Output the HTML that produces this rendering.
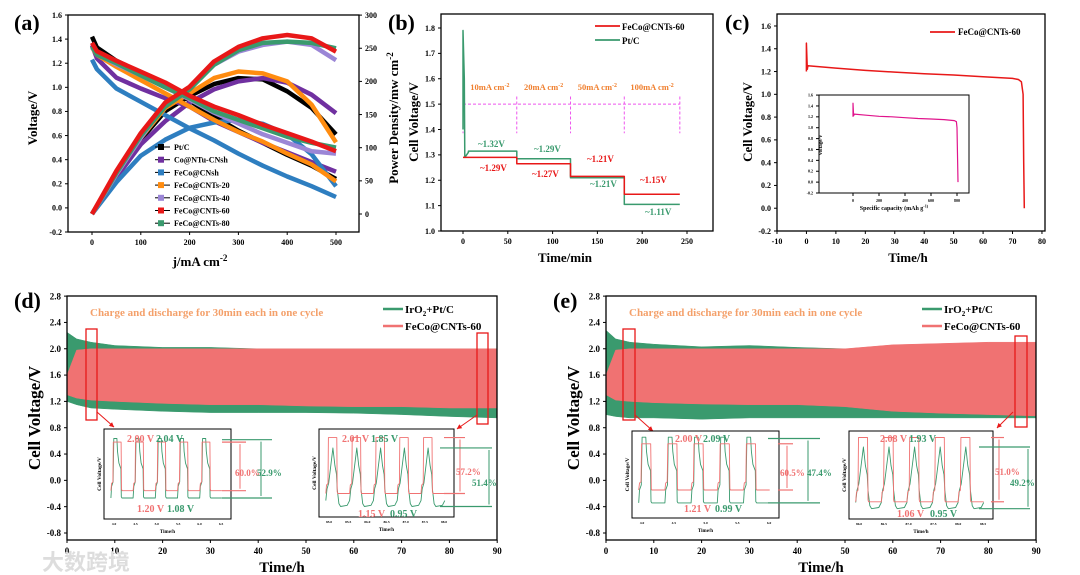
<!DOCTYPE html>
<html><head><meta charset="utf-8"><style>
html,body{margin:0;padding:0;background:#fff;}
svg{display:block;font-family:"Liberation Serif",serif;font-weight:bold;}
</style></head><body>
<svg id="fig" width="1080" height="575" viewBox="0 0 1080 575" xmlns="http://www.w3.org/2000/svg"></svg>
<script>
// ---------- Panel (a) data ----------
const aJV = [0,10,50,100,150,200,250,300,350,400,450,500];
const aJP = [0,50,100,150,200,250,300,350,400,450,500];
const aNames = ["Pt/C","Co@NTu-CNsh","FeCo@CNsh","FeCo@CNTs-20","FeCo@CNTs-40","FeCo@CNTs-60","FeCo@CNTs-80"];
const aColors = ["#000000","#7030a0","#2e7ec0","#ff8c10","#9b86d6","#e81818","#3a9a6e"];
const aV0 = [1.42,1.33,1.22,1.12,1.01,0.89,0.76,0.64,0.54,0.44,0.35,0.24];
const aV1 = [1.35,1.24,1.08,0.99,0.91,0.84,0.72,0.63,0.54,0.46,0.38,0.30];
const aV2 = [1.23,1.15,0.99,0.88,0.77,0.66,0.56,0.45,0.35,0.26,0.18,0.09];
const aV3 = [1.33,1.27,1.17,1.06,0.95,0.84,0.73,0.63,0.55,0.45,0.36,0.22];
const aV4 = [1.33,1.28,1.19,1.10,1.00,0.90,0.79,0.70,0.61,0.54,0.47,0.45];
const aV5 = [1.37,1.30,1.22,1.13,1.04,0.93,0.84,0.77,0.69,0.62,0.55,0.47];
const aV6 = [1.34,1.27,1.20,1.10,1.00,0.91,0.80,0.73,0.66,0.59,0.54,0.50];
const aP0 = [0,60,112,155,178,196,205,203,185,160,120];
const aP1 = [0,55,105,140,168,188,200,205,198,180,152];
const aP2 = [0,48,88,112,130,138,142,136,120,90,42];
const aP3 = [0,60,115,160,182,205,215,212,200,165,108];
const aP4 = [0,60,115,165,190,225,245,255,260,255,232];
const aP5 = [0,65,122,168,192,230,252,265,270,265,245];
const aP6 = [0,62,118,162,188,225,247,258,260,258,250];
// ---------- Panel (b) data ----------
const bTimes = [0,60,120,180,242];
const bRed = [1.29,1.265,1.215,1.145];
const bGreen = [1.315,1.285,1.21,1.105];
const bSpike = 1.79;
const bCurrents = ["10mA cm","20mA cm","50mA cm","100mA cm"];
// ---------- Panel (c) data ----------
const cT = [0,0,0.3,0.5,10,20,30,40,50,60,70,72,73,73.6,73.8,74];
const cV = [1.2,1.45,1.22,1.25,1.23,1.21,1.195,1.18,1.17,1.155,1.14,1.13,1.11,1.0,0.4,0];
const ciCap = [0,0,5,10,100,200,300,400,500,600,700,780,795,800,805,808];
const ciV = [1.2,1.45,1.22,1.25,1.23,1.21,1.2,1.185,1.17,1.16,1.15,1.13,1.11,1.0,0.4,0];
// ---------- Panels (d)/(e) envelopes ----------
const dT = [0,2,5,10,20,30,40,50,60,70,80,90];
const dGreenTop = [2.25,2.15,2.1,2.05,2.02,2.02,2.0,2.0,2.0,2.0,2.0,2.0];
const dGreenBot = [1.2,1.15,1.1,1.08,1.05,1.03,1.03,1.03,1.02,1.0,0.97,0.95];
const dRedTop = [1.6,1.98,2.0,2.0,2.0,2.0,2.0,2.0,2.0,2.0,2.0,2.0];
const dRedBot = [1.3,1.25,1.22,1.2,1.17,1.15,1.15,1.13,1.12,1.12,1.1,1.1];
const eGreenTop = [2.28,2.15,2.1,2.07,2.03,2.05,2.02,2.0,2.0,2.0,2.0,2.0];
const eGreenBot = [1.0,0.97,0.95,0.95,0.93,0.95,0.95,0.95,0.95,0.95,0.95,0.95];
const eRedTop = [1.6,1.98,2.0,2.0,2.0,2.0,2.0,2.0,2.06,2.08,2.1,2.1];
const eRedBot = [1.3,1.22,1.2,1.18,1.16,1.15,1.15,1.12,1.05,1.02,1.0,0.98];
// inset levels [redHigh, redLow, greenHigh, greenLow]
const dIn1 = [2.00,1.20,2.04,1.08];
const dIn2 = [2.01,1.15,1.85,0.95];
const eIn1 = [2.00,1.21,2.09,0.99];
const eIn2 = [2.08,1.06,1.93,0.95];
const dIn1Ticks = ["4.0","4.5","5.0","5.5","6.0","6.5"];
const dIn2Ticks = ["85.0","85.5","86.0","86.5","87.0","87.5","88.0"];
const eIn1Ticks = ["4.0","4.5","5.0","5.5","6.0"];
const eIn2Ticks = ["86.0","86.5","87.0","87.5","88.0","88.5"];

const NS="http://www.w3.org/2000/svg";
const svg=document.getElementById('fig');
function el(tag, attrs, name, parent){
  const e=document.createElementNS(NS,tag);
  for(const k in attrs) e.setAttribute(k,attrs[k]);
  
  
  (parent||svg).appendChild(e);
  return e;
}
function txt(x,y,s,size,name,opt){
  opt=opt||{};
  const t=el('text',{x:x,y:y,'font-size':size,fill:opt.fill||'#000','text-anchor':opt.anchor||'start'},name);
  if(opt.rot) t.setAttribute('transform','rotate(-90 '+x+' '+y+')');
  if(opt.sup){ t.textContent=s; const ts=document.createElementNS(NS,'tspan'); ts.setAttribute('dy',-size*0.4); ts.setAttribute('font-size',size*0.7); ts.textContent=opt.sup; t.appendChild(ts);} else t.textContent=s;
  return t;
}
function poly(pts,stroke,w,name,fill){
  return el('polyline',{points:pts.map(p=>p[0].toFixed(1)+','+p[1].toFixed(1)).join(' '),fill:fill||'none',stroke:stroke,'stroke-width':w,'stroke-linejoin':'round'},name);
}
function line(x1,y1,x2,y2,stroke,w,name,dash){
  const l=el('line',{x1:x1,y1:y1,x2:x2,y2:y2,stroke:stroke,'stroke-width':w},name);
  if(dash) l.setAttribute('stroke-dasharray',dash);
  return l;
}
function box(x0,y0,x1,y1,name,w){
  el('rect',{x:x0,y:y0,width:x1-x0,height:y1-y0,fill:'none',stroke:'#000','stroke-width':w||1.3},name);
}
function yTicks(vals,ys,x,labels,size,name,right){
  vals.forEach((v,i)=>{
    const y=ys(v);
    line(x, y, right? x+3 : x-3, y,'#000',1,name+'-tick');
    txt(right? x+6 : x-6, y+size*0.35, labels[i], size, name+'-label',{anchor: right?'start':'end'});
  });
}
function xTicks(vals,xs,y,labels,size,name){
  vals.forEach((v,i)=>{
    const x=xs(v);
    line(x,y,x,y+3,'#000',1,name+'-tick');
    txt(x,y+5+size,labels[i],size,name+'-label',{anchor:'middle'});
  });
}
function range(a,b,s){const r=[];for(let v=a;v<=b+1e-9;v+=s)r.push(+v.toFixed(4));return r;}

// ===== Panel (a) =====
const xA=v=>92+v*0.488, yAL=v=>232-(v+0.2)*120.56, yAR=v=>214-v*0.663;
txt(14,30,'(a)',22,'panel-a-label');
box(68,15,359,232,'panel-a-plot-area');
const aL=range(-0.2,1.6,0.2);
yTicks(aL,yAL,68,aL.map(v=>v.toFixed(1)),8,'a-y-axis');
const aR=range(0,300,50);
yTicks(aR,yAR,359,aR.map(v=>String(v)),8,'a-y2-axis',true);
const aX=range(0,500,100);
xTicks(aX,xA,232,aX.map(v=>String(v)),8,'a-x-axis');
txt(37,118,'Voltage/V',13,'a-y-axis-title',{anchor:'middle',rot:true});
txt(398,118,'Power Density/mw cm',13,'a-y2-axis-title',{anchor:'middle',rot:true,sup:'-2'});
txt(200,266,'j/mA cm',13,'a-x-axis-title',{anchor:'middle',sup:'-2'});
const aVs=[aV0,aV1,aV2,aV3,aV4,aV5,aV6], aPs=[aP0,aP1,aP2,aP3,aP4,aP5,aP6];
const order=[0,1,2,3,4,6,5];
order.forEach(i=>{
  poly(aJV.map((j,k)=>[xA(j),yAL(aVs[i][k])]),aColors[i],4.5,'a-voltage-'+aNames[i].toLowerCase().replace(/[@\/]/g,'-'));
  poly(aJP.map((j,k)=>[xA(j),yAR(aPs[i][k])]),aColors[i],4.5,'a-power-'+aNames[i].toLowerCase().replace(/[@\/]/g,'-'));
});
aNames.forEach((n,i)=>{
  const y=147+i*12.7;
  line(155,y,170,y,'#000',1,'a-legend-line');
  el('rect',{x:158,y:y-3,width:6,height:6,fill:aColors[i]},'a-legend-marker');
  txt(174,y+3,n,8,'a-legend-entry');
});

// ===== Panel (b) =====
const xB=v=>463+v*0.896, yB=v=>231-(v-1.0)*253.75;
txt(388,30,'(b)',22,'panel-b-label');
box(441,14,713,231,'panel-b-plot-area');
const bY=range(1.0,1.8,0.1);
yTicks(bY,yB,441,bY.map(v=>v.toFixed(1)),8,'b-y-axis');
const bX=range(0,250,50);
xTicks(bX,xB,231,bX.map(v=>String(v)),8,'b-x-axis');
txt(418,122,'Cell Voltage/V',13,'b-y-axis-title',{anchor:'middle',rot:true});
txt(565,262,'Time/min',13,'b-x-axis-title',{anchor:'middle'});
// dashed current markers
line(xB(0),yB(1.5),xB(bTimes[4]),yB(1.5),'#ee55ee',1,'b-current-dash','3,2');
bTimes.forEach(t=>line(xB(t),yB(1.53),xB(t),yB(1.385),'#ee55ee',1,'b-current-divider','3,2'));
bCurrents.forEach((c,i)=>txt((xB(bTimes[i])+xB(bTimes[i+1]))/2,yB(1.555),c,8.5,'b-current-label',{anchor:'middle',fill:'#f08030',sup:'-2'}));
// green series
const gPts=[[xB(0),yB(1.4)],[xB(0),yB(bSpike)],[xB(1.5),yB(1.6)],[xB(2),yB(1.29)],[xB(6),yB(bGreen[0]-0.005)]];
const rPts=[[xB(0),yB(bRed[0])]];
for(let i=0;i<4;i++){
  gPts.push([xB(bTimes[i]+(i?0:6)),yB(bGreen[i])],[xB(bTimes[i+1]),yB(bGreen[i])]);
  rPts.push([xB(bTimes[i]),yB(bRed[i])],[xB(bTimes[i+1]),yB(bRed[i])]);
}
poly(gPts,'#3a9a6e',1.5,'b-series-ptc');
poly(rPts,'#e81818',1.5,'b-series-feco-cnts-60');
[['~1.32V',478,147,'#3a9a6e'],['~1.29V',534,152,'#3a9a6e'],['~1.29V',480,171,'#e81818'],['~1.27V',532,177,'#e81818'],['~1.21V',587,162,'#e81818'],['~1.21V',590,187,'#3a9a6e'],['~1.15V',640,183,'#e81818'],['~1.11V',645,215,'#3a9a6e']].forEach(a=>txt(a[1],a[2],a[0],9,'b-value-annotation',{fill:a[3]}));
line(595,26,620,26,'#e81818',1.8,'b-legend-line-feco');
txt(622,30,'FeCo@CNTs-60',9,'b-legend-entry-feco');
line(595,40,620,40,'#3a9a6e',1.8,'b-legend-line-ptc');
txt(622,44,'Pt/C',9,'b-legend-entry-ptc');

// ===== Panel (c) =====
const xC=v=>777+(v+10)*2.944, yC=v=>231-(v+0.2)*113.9;
txt(725,30,'(c)',22,'panel-c-label');
box(777,14,1045,231,'panel-c-plot-area');
const cY=range(-0.2,1.6,0.2);
yTicks(cY,yC,777,cY.map(v=>v.toFixed(1)),8,'c-y-axis');
const cX=range(-10,80,10);
xTicks(cX,xC,231,cX.map(v=>String(v)),8,'c-x-axis');
txt(752,122,'Cell Voltage/V',13,'c-y-axis-title',{anchor:'middle',rot:true});
txt(908,262,'Time/h',13,'c-x-axis-title',{anchor:'middle'});
poly(cT.map((t,i)=>[xC(t),yC(cV[i])]),'#e81818',1.5,'c-discharge-curve');
line(930,32,955,32,'#e81818',1.8,'c-legend-line');
txt(958,35,'FeCo@CNTs-60',9,'c-legend-entry');
const xCi=v=>853+v*0.13, yCi=v=>193-(v+0.2)*54.4;
box(819,95,969,193,'c-inset-plot-area',1);
const ciY=range(-0.2,1.6,0.2);
yTicks(ciY,yCi,819,ciY.map(v=>v.toFixed(1)),4,'c-inset-y-axis');
const ciX=range(0,800,200);
xTicks(ciX,xCi,193,ciX.map(v=>String(v)),4,'c-inset-x-axis');
txt(822,145,'Voltage/V',5,'c-inset-y-title',{anchor:'middle',rot:true});
txt(894,210,'Specific capacity (mAh g',6,'c-inset-x-title',{anchor:'middle',sup:'-1)'});
poly(ciCap.map((c,i)=>[xCi(c),yCi(ciV[i])]),'#e0148c',1.2,'c-inset-curve');

// ===== Panels (d)/(e) =====
function cyclePanel(ox,label,gT,gB,rT,rB,ins,rects,arrows){
  const xs=v=>ox+v*4.78, ys=v=>533-(v+0.8)*65.8;
  txt(ox-53,308,label,22,'panel-'+label[1]+'-label');
  const yv=range(-0.8,2.8,0.4);
  yTicks(yv,ys,ox,yv.map(v=>v.toFixed(1)),9,label[1]+'-y-axis');
  const xv=range(0,90,10);
  xTicks(xv,xs,540,xv.map(v=>String(v)),9,label[1]+'-x-axis');
  txt(ox-27,418,'Cell Voltage/V',17,label[1]+'-y-axis-title',{anchor:'middle',rot:true});
  txt(ox+215,572,'Time/h',15,label[1]+'-x-axis-title',{anchor:'middle'});
  const gp=dT.map((t,i)=>[xs(t),ys(gT[i])]).concat(dT.slice().reverse().map((t,k)=>[xs(t),ys(gB[dT.length-1-k])]));
  poly(gp,'#3a9a6e',0.5,label[1]+'-band-iro2-ptc','#3a9a6e');
  const rp=dT.map((t,i)=>[xs(t),ys(rT[i])]).concat(dT.slice().reverse().map((t,k)=>[xs(t),ys(rB[dT.length-1-k])]));
  poly(rp,'#f07272',0.5,label[1]+'-band-feco-cnts-60','#f07272');
  box(ox,296,ox+430,540,'panel-'+label[1]+'-plot-area');
  txt(ox+23,316,'Charge and discharge for 30min each in one cycle',11,label[1]+'-note',{fill:'#f4a06a'});
  line(ox+316,309,ox+336,309,'#3a9a6e',2.5,label[1]+'-legend-line-iro2');
  const lt=txt(ox+338,313,'IrO',11,label[1]+'-legend-entry-iro2');
  const s=document.createElementNS(NS,'tspan');s.setAttribute('font-size','7');s.setAttribute('dy','3');s.textContent='2';lt.appendChild(s);
  const s2=document.createElementNS(NS,'tspan');s2.setAttribute('dy','-3');s2.textContent='+Pt/C';lt.appendChild(s2);
  line(ox+316,326,ox+336,326,'#f07272',2.5,label[1]+'-legend-line-feco');
  txt(ox+338,330,'FeCo@CNTs-60',11,label[1]+'-legend-entry-feco');
  rects.forEach(r=>el('rect',{x:r[0],y:r[1],width:r[2]-r[0],height:r[3]-r[1],fill:'none',stroke:'#e81818','stroke-width':1.3},label[1]+'-zoom-box'));
  arrows.forEach(a=>{
    line(a[0],a[1],a[2],a[3],'#e81818',1,label[1]+'-zoom-arrow');
    const ang=Math.atan2(a[3]-a[1],a[2]-a[0]);
    const p=[[a[2],a[3]],[a[2]-5*Math.cos(ang-0.45),a[3]-5*Math.sin(ang-0.45)],[a[2]-5*Math.cos(ang+0.45),a[3]-5*Math.sin(ang+0.45)]];
    poly(p,'#e81818',0.5,label[1]+'-zoom-arrowhead','#e81818');
  });
  ins.forEach(n=>inset(n));
}
const redShape=[[0,0],[0.03,0.15],[0.09,0.18],[0.11,1],[0.46,1],[0.48,0.03],[0.5,0],[1,0]];
const greenShapeA=[[0,0],[0.03,0.2],[0.1,0.28],[0.13,1.02],[0.27,1.02],[0.3,0.8],[0.36,0.6],[0.45,0.5],[0.47,0.02],[0.5,0],[0.95,0],[1,0]];
const greenShapeB=[[0,0.1],[0.05,0.3],[0.12,0.4],[0.3,1],[0.38,0.7],[0.45,0.55],[0.48,0.3],[0.55,0.05],[0.62,0],[0.9,0.02],[1,0.1]];
function inset(c){
  const [x0,y0,x1,y1]=c.box, n=c.name;
  el('rect',{x:x0,y:y0,width:x1-x0,height:y1-y0,fill:'#fff',stroke:'#000','stroke-width':1},n+'-plot-area');
  const ys=v=>y1-4-(v-c.dom[0])/(c.dom[1]-c.dom[0])*(y1-y0-8);
  const px0=x0+8, pw=(x1-x0-16)/5;
  [[c.lv[2],c.lv[3],'#3a9a6e',c.g],[c.lv[0],c.lv[1],'#f07272',redShape]].forEach((s,si)=>{
    const pts=[];
    for(let k=0;k<5;k++) s[3].forEach(p=>{const x=px0+(k+p[0]-0.05)*pw; if(x>=x0+1&&x<=x1-1) pts.push([x,ys(s[1]+p[1]*(s[0]-s[1]))]);});
    poly(pts,s[2],0.9,n+(si?'-red-trace':'-green-trace'));
  });
  c.ticks.forEach((t,i)=>txt(x0+10+i*(x1-x0-20)/(c.ticks.length-1),y1+6,t,3.5,n+'-x-tick-label',{anchor:'middle'}));
  txt((x0+x1)/2,y1+14,'Time/h',5,n+'-x-title',{anchor:'middle'});
  txt(x0-3,(y0+y1)/2,'Cell Voltage/V',5.5,n+'-y-title',{anchor:'middle',rot:true});
  // brackets
  const b=c.br;
  const rH=ys(c.lv[0]), rL=ys(c.lv[1]), gH=ys(c.lv[2]), gL=ys(c.lv[3]);
  line(b[0],rH,b[1],rH,'#f07272',1.2,n+'-red-bracket');
  line(b[0],rL,b[1],rL,'#f07272',1.2,n+'-red-bracket');
  line(b[2],rH+2,b[2],rL-2,'#f07272',1,n+'-red-arrow');
  line(b[3],gH,b[4],gH,'#3a9a6e',1.2,n+'-green-bracket');
  line(b[3],gL,b[4],gL,'#3a9a6e',1.2,n+'-green-bracket');
  line(b[5],gH+2,b[5],gL-2,'#3a9a6e',1,n+'-green-arrow');
  txt(c.pct[0][0],c.pct[0][1],c.pct[0][2],9,n+'-red-efficiency',{fill:'#f07272'});
  txt(c.pct[1][0],c.pct[1][1],c.pct[1][2],9,n+'-green-efficiency',{fill:'#3a9a6e'});
  c.vl.forEach((v,i)=>txt(v[0],v[1],v[2],10,n+'-voltage-label',{fill:i%2?'#3a9a6e':'#f07272'}));
}
cyclePanel(67,'(d)',dGreenTop,dGreenBot,dRedTop,dRedBot,[
 {name:'d-inset-early',box:[104,429,231,519],dom:[0.8,2.15],lv:dIn1,g:greenShapeA,ticks:dIn1Ticks,br:[222,246,240,222,272,261],pct:[[235,476,'60.0%'],[257,476,'52.9%']],vl:[[127,442,'2.00 V'],[156,442,'2.04 V'],[137,512,'1.20 V'],[167,512,'1.08 V']]},
 {name:'d-inset-late',box:[319,429,454,517],dom:[0.85,2.08],lv:dIn2,g:greenShapeB,ticks:dIn2Ticks,br:[444,465,460,440,492,489],pct:[[456,475,'57.2%'],[472,486,'51.4%']],vl:[[342,442,'2.01 V'],[371,442,'1.85 V'],[358,517,'1.15 V'],[390,517,'0.95 V']]}
],[[86,329,97,420],[477,333,488,424]],[[97,412,114,427],[477,415,457,429]]);
cyclePanel(606,'(e)',eGreenTop,eGreenBot,eRedTop,eRedBot,[
 {name:'e-inset-early',box:[632,431,779,518],dom:[0.8,2.15],lv:eIn1,g:greenShapeA,ticks:eIn1Ticks,br:[778,793,787,768,820,808],pct:[[780,476,'60.5%'],[807,476,'47.4%']],vl:[[675,442,'2.00 V'],[703,442,'2.09 V'],[684,512,'1.21 V'],[715,512,'0.99 V']]},
 {name:'e-inset-late',box:[849,431,993,519],dom:[0.85,2.12],lv:eIn2,g:greenShapeB,ticks:eIn2Ticks,br:[991,1004,999,979,1030,1028],pct:[[995,475,'51.0%'],[1010,486,'49.2%']],vl:[[880,442,'2.08 V'],[909,442,'1.93 V'],[897,517,'1.06 V'],[930,517,'0.95 V']]}
],[[623,329,635,420],[1015,336,1027,427]],[[635,415,653,431],[1013,412,997,428]]);
// watermark
const wm=txt(12,570,'大数跨境',22,'watermark',{fill:'#dddddd'});
wm.setAttribute('font-family','"Liberation Sans","Noto Sans CJK SC",sans-serif');
wm.setAttribute('dx','30');
</script>
</body></html>
